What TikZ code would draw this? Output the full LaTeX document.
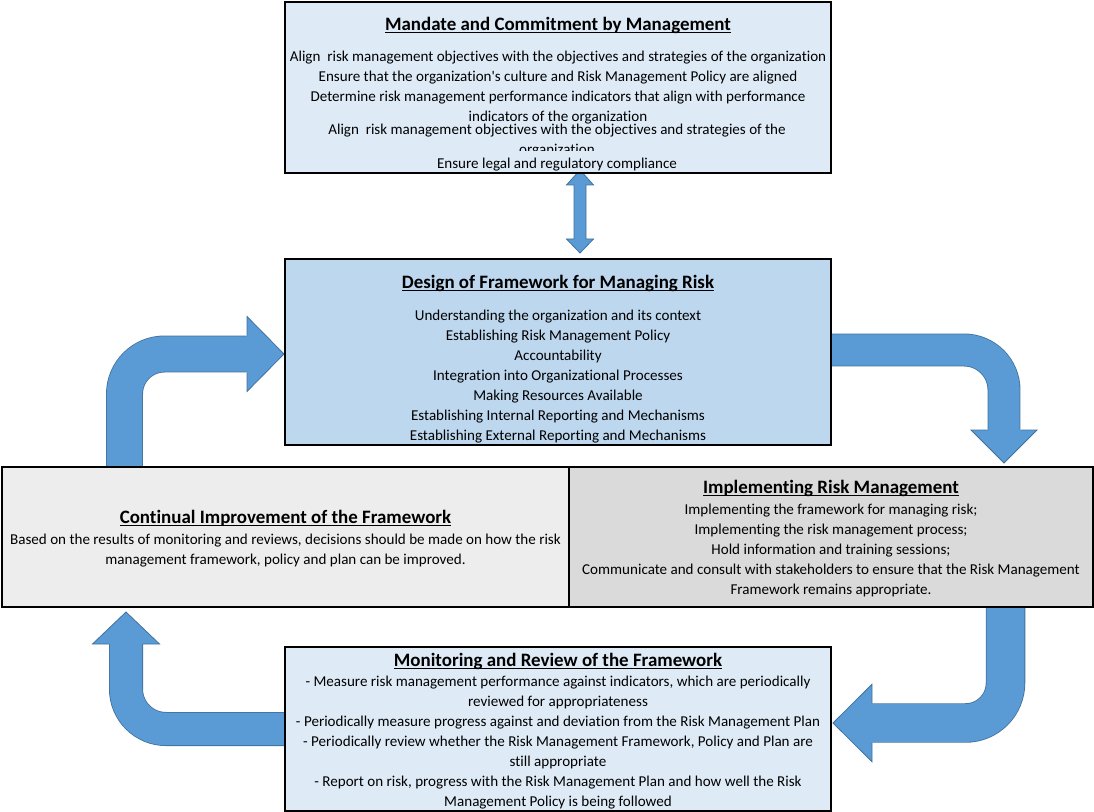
\documentclass[tikz,border=0pt]{standalone}
\usepackage{fontspec}
\setmainfont{Carlito}[Ligatures=NoCommon]
\usetikzlibrary{positioning,calc,backgrounds}

\definecolor{paleblue}{HTML}{DEEBF7}
\definecolor{midblue}{HTML}{BDD7EE}
\definecolor{palegray}{HTML}{EDEDED}
\definecolor{midgray}{HTML}{DADADA}
\definecolor{arrowblue}{HTML}{5B9BD5}
\definecolor{arrowline}{HTML}{41719C}

% bold underlined heading of a box
\newcommand{\ttl}[1]{{\fontsize{14.2}{15}\selectfont\bfseries
  \setbox0=\hbox{#1}\rlap{\rule[-2pt]{\wd0}{0.8pt}}\box0}}

\tikzset{
  box/.style={draw,line width=1.5pt,anchor=north west,inner sep=0pt},
  txt/.style={align=center,inner sep=0pt,anchor=north,
    font=\fontsize{11.3}{15}\selectfont},
  flow/.style={draw=arrowline,line width=0.6pt,double=arrowblue,
    double distance=#1,rounded corners=30pt},
  head/.style={fill=arrowblue,draw=arrowline,line width=0.6pt}
}

\begin{document}
\begin{tikzpicture}[x=0.75pt,y=-0.75pt]
\useasboundingbox (0,0) rectangle (1094,812);

% boxes
\node[box,fill=paleblue,minimum width=409.5pt,minimum height=128.25pt] (mandate) at (284,1) {};
\node[box,fill=midblue,minimum width=409.5pt,minimum height=139.5pt] (design) at (284,258) {};
\node[box,fill=palegray,minimum width=425.25pt,minimum height=105pt] (improve) at (1,466) {};
\node[box,fill=midgray,minimum width=393pt,minimum height=105pt] (implement) at (568,466) {};
\node[box,fill=paleblue,minimum width=409.5pt,minimum height=123pt] (monitor) at (284,646) {};

% texts
\node[txt,below=12pt of mandate.north] (mandate-t) {\ttl{Mandate and Commitment by Management}\\[7.9pt]
  Align~ risk management objectives with the objectives and strategies of the organization\\
  Ensure that the organization\textquotesingle s culture and Risk Management Policy are aligned\\
  Determine risk management performance indicators that align with performance\\
  indicators of the organization};
\begin{scope}
  \clip (284,119) rectangle (830,151);
  \node[txt] (mandate-x) at (557,124) {Align~ risk management objectives with the objectives and strategies of the\\
    organization};
\end{scope}
\node[txt,anchor=base] (mandate-y) at (557,168.5) {Ensure legal and regulatory compliance};

\node[txt,below=12.75pt of design.north] (design-t) {\ttl{Design of Framework for Managing Risk}\\[8.6pt]
  Understanding the organization and its context\\
  Establishing Risk Management Policy\\
  Accountability\\
  Integration into Organizational Processes\\
  Making Resources Available\\
  Establishing Internal Reporting and Mechanisms\\
  Establishing External Reporting and Mechanisms};

\node[txt,below=33pt of improve.north] (improve-t) {\ttl{Continual Improvement of the Framework}\\[0.4pt]
  Based on the results of monitoring and reviews, decisions should be made on how the risk\\
  management framework, policy and plan can be improved.};

\node[txt,below=10.5pt of implement.north] (implement-t) {\ttl{Implementing Risk Management}\\[0.4pt]
  Implementing the framework for managing risk;\\
  Implementing the risk management process;\\
  Hold information and training sessions;\\
  Communicate and consult with stakeholders to ensure that the Risk Management\\
  Framework remains appropriate.};

\node[txt,below=5pt of monitor.north] (monitor-t) {\ttl{Monitoring and Review of the Framework}\\[0.4pt]
  - Measure risk management performance against indicators, which are periodically\\
  reviewed for appropriateness\\
  - Periodically measure progress against and deviation from the Risk Management Plan\\
  - Periodically review whether the Risk Management Framework, Policy and Plan are\\
  still appropriate\\
  - Report on risk, progress with the Risk Management Plan and how well the Risk\\
  Management Policy is being followed};

% arrows
\coordinate (a-tip) at ($(design.west)+(0,2)$);
\coordinate (b-tip) at (1004,463);
\coordinate (c-tip) at (833,723);
\coordinate (d-tip) at (126,612);
\coordinate (e-top) at (580,170);
\coordinate (e-bot) at (580,253);
\begin{scope}[on background layer]
\draw[flow=26.5pt] ($(improve.north west)+(123.5,0)$) |- ($(a-tip)+(-37,0)$);
\filldraw[head] ($(a-tip)+(-37,-18.5)$) -- ++(0,-19) -- (a-tip) -- ++(-37,37.5) -- ++(0,-19);

\draw[flow=23.5pt] ($(design.east)+(0,-2)$) -| ($(b-tip)+(0,-33)$);
\filldraw[head] ($(b-tip)+(-16.5,-33)$) -- ++(-16.5,0) -- (b-tip) -- ++(33,-33) -- ++(-16.5,0);

\draw[flow=28.4pt] ($(implement.south west)+(437.5,0)$) |- ($(c-tip)+(39,0)$);
\filldraw[head] ($(c-tip)+(39,-19.75)$) -- ++(0,-19) -- (c-tip) -- ++(39,38.75) -- ++(0,-19);

\draw[flow=24.3pt] (monitor.west) -| ($(d-tip)+(0,32)$);
\filldraw[head] ($(d-tip)+(-17,32)$) -- ++(-16.5,0) -- (d-tip) -- ++(33.5,32) -- ++(-16.5,0);

\filldraw[head] (e-top) -- ++(13.5,15) -- ++(-7.5,0) -- ++(0,54) -- ++(7.5,0) -- (e-bot)
  -- ++(-13.5,-14) -- ++(7.5,0) -- ++(0,-54) -- ++(-7.5,0) -- cycle;
\end{scope}
\end{tikzpicture}
\end{document}
